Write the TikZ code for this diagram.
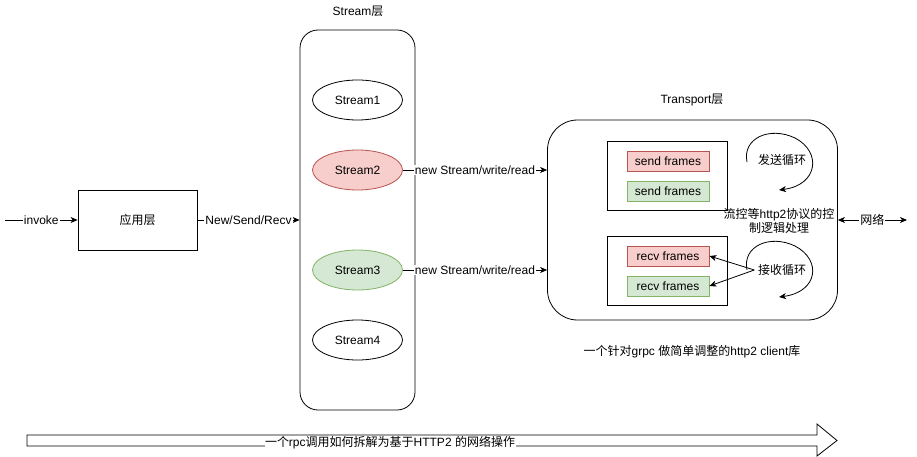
\documentclass[tikz,border=0pt]{standalone}
\usepackage{fontspec}
\setmainfont{Liberation Sans}
\newfontfamily\cjk{Noto Sans CJK SC}
\usetikzlibrary{arrows.meta,shapes.geometric}
\definecolor{redfill}{HTML}{F8CECC}
\definecolor{redline}{HTML}{B85450}
\definecolor{greenfill}{HTML}{D5E8D4}
\definecolor{greenline}{HTML}{82B366}
\begin{document}
\begin{tikzpicture}[x=1pt,y=-1pt,font=\fontsize{12}{14}\selectfont,line width=0.8pt,
          arr/.style={-{Stealth[length=7pt,width=6pt,inset=2pt]}},
          lbl/.style={fill=white, inner sep=1pt},
          stream/.style={ellipse, draw, minimum width=90pt, minimum height=40pt, inner sep=0pt},
          frame/.style={draw, minimum width=82pt, minimum height=20pt, inner sep=0pt},
          redframe/.style={frame, fill=redfill, draw=redline},
          greenframe/.style={frame, fill=greenfill, draw=greenline},
          holder/.style={draw, minimum width=120pt, minimum height=69pt, inner sep=0pt}]
        \useasboundingbox (0,0) rectangle (917,457);
        % left side
        \coordinate (start) at (5,220);
        \node[draw, minimum width=119pt, minimum height=60pt] (app) at (137.5,220) {\cjk 应用层};
        % stream layer
        \node (streamtitle) at (358,11) {Stream{\cjk 层}};
        \node[draw, rounded corners=18pt, minimum width=115pt, minimum height=380pt] (streams) at (357.5,220) {};
        \node[stream] (s1) at (357.5,100) {Stream1};
        \node[stream, fill=redfill, draw=redline] (s2) at (357.5,170) {Stream2};
        \node[stream, fill=greenfill, draw=greenline] (s3) at (357.5,270) {Stream3};
        \node[stream] (s4) at (357.5,340) {Stream4};
        % transport layer
        \node (transtitle) at (692,100) {Transport{\cjk 层}};
        \node[draw, rounded corners=30pt, minimum width=290pt, minimum height=200pt] (transport) at (692.5,220) {};
        \node[holder] (sendbox) at (667,175.5) {};
        \node[holder] (recvbox) at (667,270.5) {};
        \node[redframe] (send1) at (668,161) {send frames};
        \node[greenframe] (send2) at (668,191) {send frames};
        \node[redframe] (recv1) at (668,256) {recv frames};
        \node[greenframe] (recv2) at (668,286) {recv frames};
        \node (sendloop) at (782,160) {\cjk 发送循环};
        \node (recvloop) at (782,270) {\cjk 接收循环};
        \node[align=center, inner sep=0pt] (ctrl) at (779,221) {{\cjk 流控等}http2{\cjk 协议的控}\\{\cjk 制逻辑处理}};
        \node (client) at (692,352) {{\cjk 一个针对}grpc {\cjk 做简单调整的}http2 client{\cjk 库}};
        \coordinate (net) at (907,220);
        % loops
        \coordinate (sl0) at (747,162);
        \coordinate (sl1) at (779,190);
        \coordinate (rl0) at (747,270);
        \coordinate (rl1) at (779,297);
        \draw[arr] (sl0) .. controls (742,138) and (770,126) .. (795,138) .. controls (822,152) and (818,185) .. (sl1);
        \draw[arr] (rl0) .. controls (742,246) and (770,234) .. (795,246) .. controls (822,260) and (818,292) .. (rl1);
        % connectors
        \draw[arr] (start) -- node[lbl] {invoke} (app);
        \draw[arr] (app) -- node[lbl] {New/Send/Recv} (streams.west |- app);
        \draw[arr] (s2) -- node[lbl] {new Stream/write/read} (s2 -| transport.west);
        \draw[arr] (s3) -- node[lbl] {new Stream/write/read} (s3 -| transport.west);
        \draw[arr] (recvloop.west) -- (recv1.east);
        \draw[arr] (recvloop.west) -- (recv2.east);
        \draw[{Stealth[length=7pt,width=6pt,inset=2pt]}-{Stealth[length=7pt,width=6pt,inset=2pt]}] (transport.east) -- node[lbl] {\cjk 网络} (net);
        % bottom arrow
        \draw (27,435) -- (817,435) -- (817,424) -- (837,440.5) -- (817,456) -- (817,446) -- (27,446) -- cycle;
        \node[fill=white, inner sep=0.5pt] (summary) at (390,443) {{\cjk 一个}rpc{\cjk 调用如何拆解为基于}HTTP2 {\cjk 的网络操作}};
      \end{tikzpicture}
\end{document}
